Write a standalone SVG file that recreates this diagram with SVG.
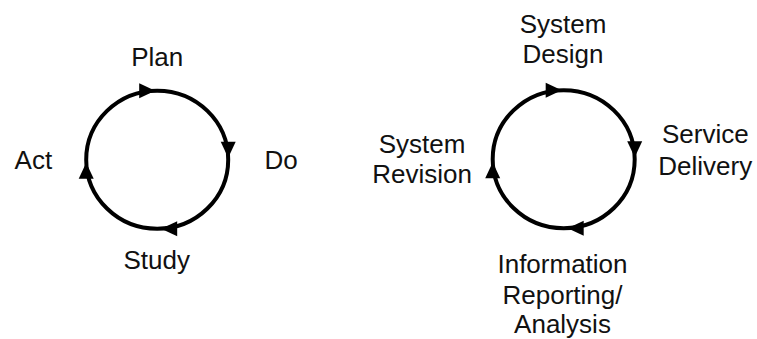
<svg xmlns="http://www.w3.org/2000/svg" xmlns:xlink="http://www.w3.org/1999/xlink" width="757" height="339" viewBox="0 0 757 339">
<style>
  .lbl { font-family: "Liberation Sans", Arial, sans-serif; font-size: 26px; fill: #111; text-anchor: middle; }
  .ring { fill: none; stroke: #000; stroke-width: 4; }
  .head { fill: #000; }
</style>
<defs>
  <path id="ah" d="M-16,-7.5 L0,0 L-16,7.5 Z"/>
</defs>
<rect width="757" height="339" fill="#fff"/>
<g id="connectors">
  <g id="cycle-left">
    <ellipse class="ring" cx="157.2" cy="159.7" rx="71" ry="69"/>
    <use xlink:href="#ah" class="head" transform="translate(155.2,90.7)"/>
    <use xlink:href="#ah" class="head" transform="translate(228.2,157.7) rotate(90)"/>
    <use xlink:href="#ah" class="head" transform="translate(161.2,228.7) rotate(180)"/>
    <use xlink:href="#ah" class="head" transform="translate(86.2,162.7) rotate(-90)"/>
  </g>
  <g id="cycle-right">
    <ellipse class="ring" cx="563.7" cy="159.2" rx="71" ry="69"/>
    <use xlink:href="#ah" class="head" transform="translate(561.7,90.2)"/>
    <use xlink:href="#ah" class="head" transform="translate(634.7,157.2) rotate(90)"/>
    <use xlink:href="#ah" class="head" transform="translate(567.7,228.2) rotate(180)"/>
    <use xlink:href="#ah" class="head" transform="translate(492.7,162.2) rotate(-90)"/>
  </g>
</g>
<g id="node-plan"><text class="lbl" x="157.2" y="66">Plan</text></g>
<g id="node-do"><text class="lbl" x="281" y="168.5">Do</text></g>
<g id="node-study"><text class="lbl" x="156.7" y="268.5">Study</text></g>
<g id="node-act"><text class="lbl" x="33.4" y="169">Act</text></g>
<g id="node-system-design"><text class="lbl" x="563" y="32.7">System</text><text class="lbl" x="563" y="63.3">Design</text></g>
<g id="node-service-delivery"><text class="lbl" x="705.3" y="143.3">Service</text><text class="lbl" x="705.3" y="174.8">Delivery</text></g>
<g id="node-information-reporting"><text class="lbl" x="562.5" y="272.5">Information</text><text class="lbl" x="562.5" y="303.5">Reporting/</text><text class="lbl" x="562.5" y="333">Analysis</text></g>
<g id="node-system-revision"><text class="lbl" x="422" y="152.7">System</text><text class="lbl" x="422" y="183.3">Revision</text></g>
</svg>
